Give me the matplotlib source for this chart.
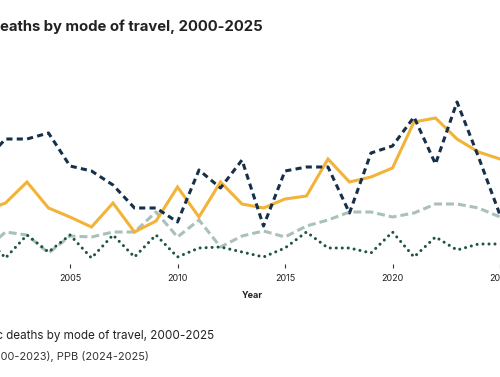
import matplotlib.pyplot as plt

plt.rcParams['font.family'] = ['Inter', 'DejaVu Sans']

# Traffic deaths by mode of travel
years = list(range(2000, 2026))
motor_vehicle = [22.6, 20.2, 24.8, 24.8, 26.0, 19.4, 18.4, 15.6, 11.0, 11.0,
                 8.2, 18.6, 15.0, 20.6, 7.4, 18.4, 19.2, 19.2, 10.0, 22.0,
                 23.4, 29.2, 19.8, 32.2, 21.2, 9.6]
pedestrian = [12.6, 10.4, 12.0, 16.2, 11.0, 9.2, 7.2, 12.0, 6.2, 8.4,
              15.2, 9.2, 16.2, 11.8, 11.0, 12.8, 13.4, 20.8, 16.2, 17.2,
              19.0, 28.2, 29.0, 24.8, 22.2, 20.8]
motorcycle = [4.6, 2.4, 6.2, 5.6, 2.0, 5.4, 5.2, 6.2, 6.2, 10.2,
              5.2, 8.6, 3.2, 5.4, 6.4, 5.2, 7.4, 8.6, 10.2, 10.2,
              9.2, 10.0, 11.8, 11.8, 11.0, 9.2]
bicycle = [2.2, 5.6, 1.0, 5.6, 2.2, 5.6, 1.0, 5.6, 1.2, 5.6,
           1.2, 3.0, 3.2, 2.2, 1.2, 3.0, 6.2, 3.0, 3.0, 2.0,
           6.2, 1.2, 5.2, 2.6, 3.8, 3.8]
tick_years = [2005, 2010, 2015, 2020, 2025]

fig = plt.figure(figsize=(5, 3.77), dpi=100)
W, H = 500, 377
# axes deliberately wider than the figure: the reference is a cropped view
ax = fig.add_axes([-37.5 / W, (H - 263) / H, 537.5 / W, 175 / H])

lw = 2.2
ax.plot(years, motorcycle, color='#a9c1b9', lw=lw, dashes=(2.6, 1.3))
ax.plot(years, bicycle, color='#1e5540', lw=lw, dashes=(0.01, 1.95),
        dash_capstyle='round')
ax.plot(years, pedestrian, color='#f2b338', lw=lw, solid_joinstyle='miter')
ax.plot(years, motor_vehicle, color='#17304a', lw=lw, dashes=(2.0, 1.4))

ax.set_xlim(2000, 2025)
ax.set_ylim(0, 35)
for s in ax.spines.values():
    s.set_visible(False)
ax.spines['bottom'].set_position(('outward', 1))
ax.set_yticks([])
ax.set_xticks(tick_years)
ax.tick_params(axis='x', length=3, width=0.8, color='#333333', pad=4,
               labelsize=6.5, labelcolor='#222222')

fig.text(252 / W, 1 - 296 / H, 'Year', ha='center', va='center',
         fontsize=6.5, fontweight='bold', color='#222222')

fig.text(263 / W, 1 - 27 / H, 'Traffic deaths by mode of travel, 2000-2025',
         ha='right', va='center', fontsize=10.7, fontweight='bold',
         color='#222222')
fig.text(214 / W, 1 - 336 / H, 'Figure: Traffic deaths by mode of travel, 2000-2025',
         ha='right', va='center', fontsize=8.4, color='#222222')
fig.text(149 / W, 1 - 357 / H, 'Source: ODOT (2000-2023), PPB (2024-2025)',
         ha='right', va='center', fontsize=7.9, color='#333333')

fig.savefig('out.png', dpi=100)
